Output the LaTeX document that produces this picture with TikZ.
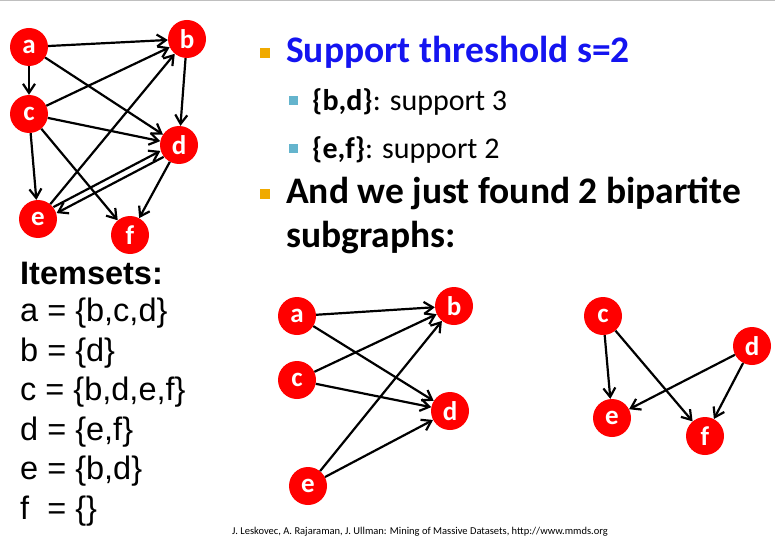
\documentclass[tikz,border=0pt]{standalone}
\usepackage{fontspec}
\setmainfont{Carlito}
\newfontfamily\arialf{Liberation Sans}
\usetikzlibrary{arrows.meta}
\definecolor{bul}{RGB}{240,170,0}
\definecolor{sbul}{RGB}{100,180,205}
\begin{document}
\begin{tikzpicture}[x=1pt,y=-1pt,
  vtx/.style={circle,fill=red,minimum size=38pt,inner sep=0pt,text=white,font=\fontsize{27}{28}\selectfont\bfseries},
  edge/.style={line width=2.2pt,-{Straight Barb[length=9pt,width=12pt,line width=2.2pt]}},
  txt/.style={anchor=west,inner sep=0pt},
  bsq/.style={fill=bul,minimum size=10pt,inner sep=0pt},
  ssq/.style={fill=sbul,minimum size=9pt,inner sep=0pt}]
\useasboundingbox (0,0) rectangle (775,540);
\fill[white] (0,0) rectangle (775,540);
\draw[gray!50,line width=1pt] (0,0.5) -- (775,0.5);
% top graph
\node[vtx] (a) at (29,47) {a};
\node[vtx] (b) at (187,39) {b};
\node[vtx] (c) at (29,114) {c};
\node[vtx] (d) at (179,145) {d};
\node[vtx] (e) at (38,219) {e};
\node[vtx] (f) at (130,235) {f};
\draw[edge] (a) -- (b);
\draw[edge] (a) -- (c);
\draw[edge] (a) -- (d);
\draw[edge] (c) -- (b);
\draw[edge] (c) -- (d);
\draw[edge] (c) -- (e);
\draw[edge] (c) -- (f);
\draw[edge] (b) -- (d);
\draw[edge] (d) -- (f);
\draw[edge] (e) -- (b);
\draw[edge,transform canvas={shift={(-1.6pt,3pt)}}] (e) -- (d);
\draw[edge,transform canvas={shift={(1.6pt,-3pt)}}] (d) -- (e);
% bottom left
\node[vtx] (a2) at (297,316) {a};
\node[vtx] (b2) at (454,306) {b};
\node[vtx] (c2) at (297,380) {c};
\node[vtx] (d2) at (450,411) {d};
\node[vtx] (e2) at (308,486) {e};
\draw[edge] (a2) -- (b2);
\draw[edge] (a2) -- (d2);
\draw[edge] (c2) -- (b2);
\draw[edge] (c2) -- (d2);
\draw[edge] (e2) -- (b2);
\draw[edge] (e2) -- (d2);
% bottom right
\node[vtx] (c3) at (603,316) {c};
\node[vtx] (d3) at (752,346) {d};
\node[vtx] (e3) at (612,418) {e};
\node[vtx] (f3) at (705,436) {f};
\draw[edge] (c3) -- (e3);
\draw[edge] (c3) -- (f3);
\draw[edge] (d3) -- (e3);
\draw[edge] (d3) -- (f3);
% text
\node[bsq] (q1) at (265,53) {};
\node[txt,text={rgb,255:red,20;green,20;blue,240}] (t1) at (286,52) {\fontsize{37.5}{40}\selectfont\bfseries Support threshold s=2};
\node[ssq] (q2) at (293,101) {};
\node[txt] (t2) at (312,102) {\fontsize{30}{32}\selectfont\textbf{\{b,d\}}: support 3};
\node[ssq] (q3) at (293,149) {};
\node[txt] (t3) at (312,150) {\fontsize{30}{32}\selectfont\textbf{\{e,f\}}: support 2};
\node[bsq] (q4) at (265,194) {};
\node[txt] (t4) at (286,193) {\fontsize{37.5}{40}\selectfont\bfseries And we just found 2 bipartite};
\node[txt] (t5) at (286,238) {\fontsize{37.5}{40}\selectfont\bfseries subgraphs:};
\begin{scope}[every node/.style={txt,font=\arialf\fontsize{32.5}{34}\selectfont}]
\node (i0) at (20,273) {\bfseries Itemsets:};
\node (i1) at (20,313) {a = \{b,c,d\}};
\node (i2) at (20,353) {b = \{d\}};
\node (i3) at (20,392) {c = \{b,d,e,f\}};
\node (i4) at (20,432) {d = \{e,f\}};
\node (i5) at (20,471) {e = \{b,d\}};
\node (i6) at (20,511) {f \ = \{\}};
\end{scope}
\node[inner sep=0pt] (ft) at (420,532) {\fontsize{10.5}{11}\selectfont J. Leskovec, A. Rajaraman, J. Ullman: Mining of Massive Datasets, http://www.mmds.org};
\end{tikzpicture}
\end{document}
